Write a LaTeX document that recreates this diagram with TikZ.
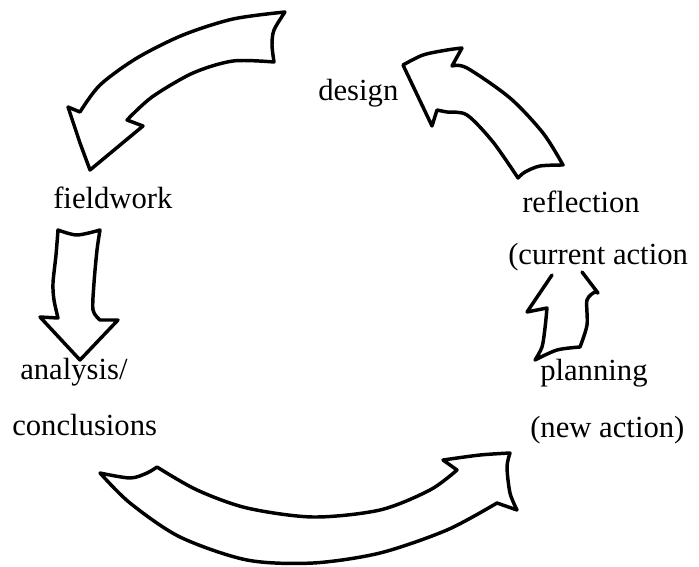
\documentclass[tikz,border=0pt]{standalone}
\usepackage{fontspec}
\setmainfont{Liberation Serif}
\usepackage{tikz}
\usetikzlibrary{positioning}

\begin{document}
\begin{tikzpicture}[x=0.75pt,y=-0.75pt,
    blockarrow/.style={line width=2.6pt, line join=round, line cap=round},
    lbl/.style={anchor=base west, inner sep=0pt, font=\fontsize{23}{28}\selectfont}]

    \useasboundingbox (0,0) rectangle (699,567);

    % labels
    \node[lbl] (design) at (318,100) {design};
    \node[lbl] (fieldwork) at (53,208) {fieldwork};
    \node[lbl] (reflection) at (522,212) {reflection};
    \node[lbl] (current) at (508,264) {(current action};
    \node[lbl] (analysis) at (20,379) {analysis/};
    \node[lbl] (conclusions) at (12,435) {conclusions};
    \node[lbl] (planning) at (540,380) {planning};
    \node[lbl] (newaction) at (530,437) {(new action)};

    % design -> fieldwork
    \draw[blockarrow] (90,170) -- (80,143) -- (68,107) -- (80,112)
      -- plot[smooth] coordinates {(80,112) (100,85) (137,58) (183,35) (233,19) (285,12)}
      -- plot[smooth] coordinates {(285,12) (274,30) (272,45) (274,62)}
      -- plot[smooth] coordinates {(274,62) (233,61) (193,73) (152,97) (127,120)}
      -- (143,126) -- cycle;

    % reflection -> design
    \draw[blockarrow] (403,65)
      -- plot[smooth] coordinates {(403,65) (423,55) (447,50) (462,48)}
      -- (452,66)
      -- plot[smooth] coordinates {(452,66) (467,68) (510,98) (543,133) (563,165)}
      -- plot[smooth] coordinates {(563,165) (540,166) (525,172) (518,178)}
      -- plot[smooth] coordinates {(518,178) (493,142) (467,115) (447,112) (437,110)}
      -- (432,126) -- cycle;

    % fieldwork -> analysis
    \draw[blockarrow] (80,360) -- (40,317) -- (58,318)
      -- plot[smooth] coordinates {(58,318) (54,300) (53,283) (56,255) (58,230)}
      -- plot[smooth] coordinates {(58,230) (77,235) (100,230)}
      -- plot[smooth] coordinates {(100,230) (97,250) (94,283) (93,310) (100,320)}
      -- (118,320) -- cycle;

    % planning -> current action
    \draw[blockarrow] (552,275) -- (527,312) -- (547,308)
      -- plot[smooth] coordinates {(547,308) (545,328) (542,347) (535,360)}
      -- plot[smooth] coordinates {(535,360) (557,350) (580,347)}
      -- plot[smooth] coordinates {(580,347) (587,325) (587,300) (595,292)}
      -- (598,293) -- (582,272);

    % conclusions -> new action
    \draw[blockarrow] (100,473)
      -- plot[smooth] coordinates {(100,473) (130,478) (147,473) (157,467)}
      -- plot[smooth] coordinates {(157,467) (197,490) (247,508) (313,517) (380,510) (430,490) (457,470)}
      -- (443,460)
      -- plot[smooth] coordinates {(443,460) (480,455) (510,453)}
      -- plot[smooth] coordinates {(510,453) (507,467) (510,493) (517,510)}
      -- (497,503)
      -- plot[smooth] coordinates {(497,503) (447,530) (380,553) (313,563) (247,560) (180,537) (130,503) (100,473)}
      -- cycle;
\end{tikzpicture}
\end{document}
